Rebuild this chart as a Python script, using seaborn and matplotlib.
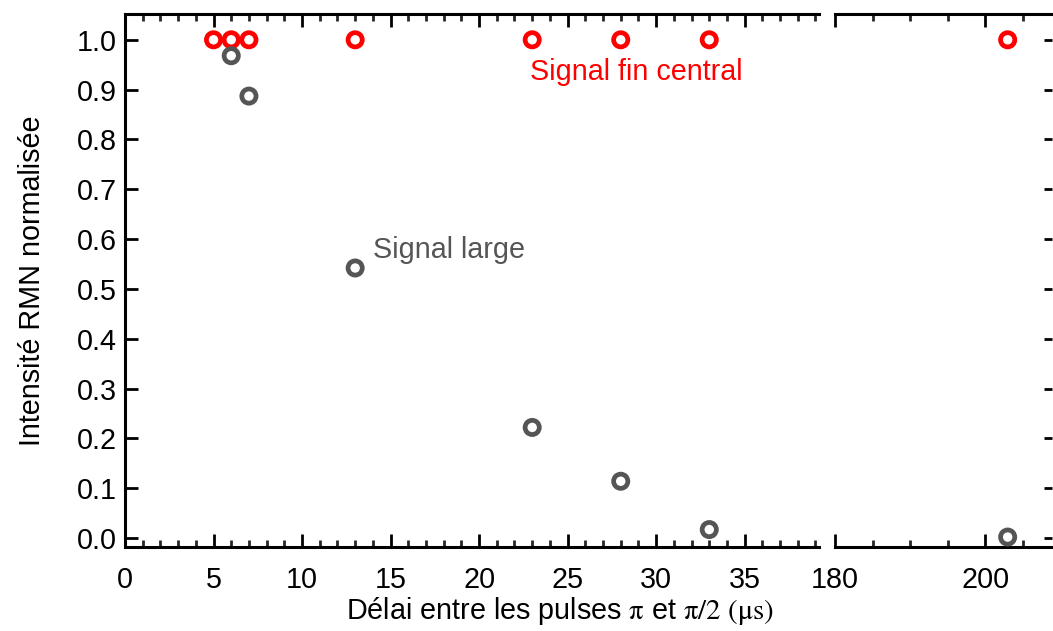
import matplotlib
matplotlib.use('Agg')
import matplotlib.pyplot as plt
import seaborn as sns
import numpy as np
from matplotlib.ticker import MultipleLocator

# data (delay in microseconds, normalised NMR intensity)
delay_fin = [5, 6, 7, 13, 23, 28, 33, 203]
fin_central = [1.0, 1.0, 1.0, 1.0, 1.0, 1.0, 1.0, 1.0]
delay_large = [6, 7, 13, 23, 28, 33, 203]
signal_large = [0.968, 0.887, 0.542, 0.222, 0.114, 0.017, 0.002]

sns.set_theme(style="ticks")
plt.rcParams['font.family'] = ['Liberation Sans', 'DejaVu Sans']
plt.rcParams['mathtext.fontset'] = 'stix'
plt.rcParams['text.color'] = 'black'
plt.rcParams['axes.labelcolor'] = 'black'

red = '#ff0000'
grey = '#555555'
fts = 20.7
lw_spine = 2.2

fig = plt.figure(figsize=(10.53, 6.31), dpi=100)
ax1 = fig.add_axes([0.1187, 0.1331, 0.7778 - 0.1187, 0.978 - 0.1331])
ax2 = fig.add_axes([0.793, 0.1331, 0.999 - 0.793, 0.978 - 0.1331])

for ax in (ax1, ax2):
    sns.scatterplot(x=delay_fin, y=fin_central, marker='o', s=105, facecolors='none',
                    edgecolor=red, linewidth=3.4, ax=ax, clip_on=False, zorder=3)
    sns.scatterplot(x=delay_large, y=signal_large, marker='o', s=105, facecolors='none',
                    edgecolor=grey, linewidth=3.4, ax=ax, clip_on=False, zorder=4)
    ax.set_ylim(-0.018, 1.052)
    ax.spines['right'].set_visible(False)
    for s in ('top', 'bottom', 'left'):
        ax.spines[s].set_linewidth(lw_spine)
        ax.spines[s].set_color('black')
    ax.tick_params(axis='both', which='major', direction='in', length=9.5, width=2, colors='black',
                   labelcolor='black', labelsize=fts, top=True, bottom=True)
    ax.tick_params(axis='x', which='minor', direction='in', length=5, width=2, top=True, bottom=True)
    ax.tick_params(axis='x', pad=14)
    ax.grid(False)

# left panel
ax1.set_xlim(0, 39.2)
ax1.xaxis.set_major_locator(MultipleLocator(5))
ax1.xaxis.set_minor_locator(MultipleLocator(1))
ax1.set_yticks(np.round(np.arange(0, 1.01, 0.1), 1))
ax1.set_yticklabels([f'{v:.1f}' for v in np.arange(0, 1.01, 0.1)])
ax1.tick_params(axis='y', left=True, right=False, pad=6)
ax1.set_ylabel('Intensité RMN normalisée', fontsize=fts, labelpad=22, color='black')

# right panel
ax2.set_xlim(180, 208.9)
ax2.xaxis.set_major_locator(MultipleLocator(20))
ax2.xaxis.set_minor_locator(MultipleLocator(5))
ax2.spines['left'].set_visible(False)
ax2.set_yticks(np.round(np.arange(0, 1.01, 0.1), 1))
ax2.tick_params(axis='y', left=False, right=True, labelleft=False, labelright=False,
                direction='in', length=6)
ax2.set_ylabel('')

ax1.text(22.9, 0.935, 'Signal fin central', color=red, fontsize=fts, va='center')
ax1.text(14.0, 0.578, 'Signal large', color=grey, fontsize=fts, va='center')

fig.text(0.532, 0.032, r'Délai entre les pulses $\mathrm{π}$ et $\mathrm{π/2}$ $(\mathrm{μs})$',
         fontsize=fts, ha='center', va='center', color='black')

plt.savefig('out.png', dpi=100)
plt.close()
